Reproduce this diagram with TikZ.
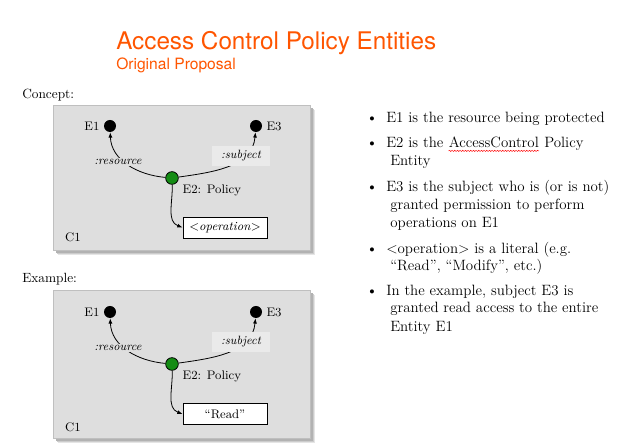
\documentclass[tikz,border=0pt]{standalone}
\usepackage{fontspec}
\usepackage{tikz}
\usepackage{xcolor}
\usetikzlibrary{arrows.meta,positioning,decorations.pathmorphing}
\newfontfamily\titlefont{TeX Gyre Heros}
\definecolor{titleorange}{RGB}{255,85,0}
\definecolor{panelgray}{RGB}{222,222,222}
\definecolor{subjgray}{RGB}{234,234,234}
\definecolor{polgreen}{RGB}{20,140,20}

\begin{document}
\begin{tikzpicture}[x=0.75pt,y=0.75pt,
  panel/.style={fill=panelgray,draw=gray!50,line width=0.3pt},
  ent/.style={circle,fill=black,inner sep=0pt,minimum size=9pt},
  pol/.style={circle,fill=polgreen,draw=black,line width=0.6pt,inner sep=0pt,minimum size=9.5pt},
  lbl/.style={font=\fontsize{9.3}{11}\selectfont,inner sep=1pt},
  role/.style={font=\fontsize{9}{11}\selectfont\itshape,inner sep=1pt,fill=panelgray},
  lit/.style={draw=black,fill=white,line width=0.6pt,minimum width=63pt,minimum height=15.75pt,inner sep=0pt,font=\fontsize{9.3}{11}\selectfont},
  arr/.style={-{Latex[length=4pt,width=3pt]},line width=0.6pt},
  bul/.style={anchor=base west,inner sep=0pt,font=\fontsize{11.2}{13.5}\selectfont},
  spell/.style={red,line width=0.35pt,decorate,decoration={snake,amplitude=0.45pt,segment length=2pt}}]
\useasboundingbox (0,0) rectangle (640,448);
% title
\node[anchor=base west,inner sep=0pt,text=titleorange,font=\titlefont\fontsize{18.2}{20}\selectfont] (title) at (116,398) {Access Control Policy Entities};
\node[anchor=base west,inner sep=0pt,text=titleorange,font=\titlefont\fontsize{11.7}{13}\selectfont] (subtitle) at (116,378) {Original Proposal};
\node[anchor=base west,inner sep=0pt,font=\fontsize{10}{12}\selectfont] (concept) at (22,349) {Concept:};
\node[anchor=base west,inner sep=0pt,font=\fontsize{10}{12}\selectfont] (example) at (22,165) {Example:};
% shadows of the two panels
\fill[gray!20] (58,193) rectangle (315,338);
\fill[gray!40] (57,194) rectangle (314,339);
\fill[gray!60] (56,195) rectangle (313,340);
\fill[gray!20] (58,5) rectangle (315,153);
\fill[gray!40] (57,6) rectangle (314,154);
\fill[gray!60] (56,7) rectangle (313,155);
% concept panel
\draw[panel] (53,198) rectangle (310,343);
\node[ent] (e1a) at (110,322) {};
\node[ent] (e3a) at (256,322) {};
\node[pol] (pola) at (172,270) {};
\node[lbl,left=2pt of e1a] (n1a) {E1};
\node[lbl,right=2pt of e3a] (n3a) {E3};
\node[lbl,anchor=west] (pla) at (181,258) {E2: Policy};
\node[lit] (opa) at (225,220.5) {\textless\textit{operation}\textgreater};
\node[lbl] (c1a) at (73,211) {C1};
\draw[arr] (pola) to[out=175,in=-88] (e1a);
\draw[arr] (pola) to[out=8,in=-95] (e3a);
\draw[arr] (pola) to[out=-88,in=160] (opa.west);
\node[role] (resa) at (118,286) {:resource};
\node[role,fill=subjgray,minimum width=43.5pt,minimum height=15pt] (subja) at (241,292) {:subject};
% example panel
\draw[panel] (53,10) rectangle (310,158);
\node[ent] (e1b) at (110,136) {};
\node[ent] (e3b) at (256,136) {};
\node[pol] (polb) at (172,84) {};
\node[lbl,left=2pt of e1b] (n1b) {E1};
\node[lbl,right=2pt of e3b] (n3b) {E3};
\node[lbl,anchor=west] (plb) at (181,72) {E2: Policy};
\node[lit] (opb) at (225,34) {“Read”};
\node[lbl] (c1b) at (73,21) {C1};
\draw[arr] (polb) to[out=175,in=-88] (e1b);
\draw[arr] (polb) to[out=8,in=-95] (e3b);
\draw[arr] (polb) to[out=-88,in=160] (opb.west);
\node[role] (resb) at (118,100) {:resource};
\node[role,fill=subjgray,minimum width=43.5pt,minimum height=15pt] (subjb) at (241,106) {:subject};
% bullet list
\node[bul] (d1) at (366,325) {\textbullet};
\node[bul] (t1) at (386,325) {E1 is the resource being protected};
\node[bul] (d2) at (366,300.3) {\textbullet};
\node[bul] (t2) at (386,300.3) {E2 is the};
\node[bul,xshift=3.7pt] (ac) at (t2.base east) {AccessControl};
\node[bul,xshift=3.7pt] (t2p) at (ac.base east) {Policy};
\draw[spell] ([yshift=-2.4pt]ac.base west) -- ([yshift=-2.4pt]ac.base east);
\node[bul] (t2b) at (390,282) {Entity};
\node[bul] (d3) at (366,256.3) {\textbullet};
\node[bul] (t3) at (386,256.3) {E3 is the subject who is (or is not)};
\node[bul] (t3b) at (390,238) {granted permission to perform};
\node[bul] (t3c) at (390,220.3) {operations on E1};
\node[bul] (d4) at (366,194) {\textbullet};
\node[bul] (t4) at (386,194) {\textless operation\textgreater{} is a literal (e.g.};
\node[bul] (t4b) at (390,177.3) {“Read”, “Modify”, etc.)};
\node[bul] (d5) at (366,152) {\textbullet};
\node[bul] (t5) at (386,152) {In the example, subject E3 is};
\node[bul] (t5b) at (390,135) {granted read access to the entire};
\node[bul] (t5c) at (390,116.3) {Entity E1};
\end{tikzpicture}
\end{document}
